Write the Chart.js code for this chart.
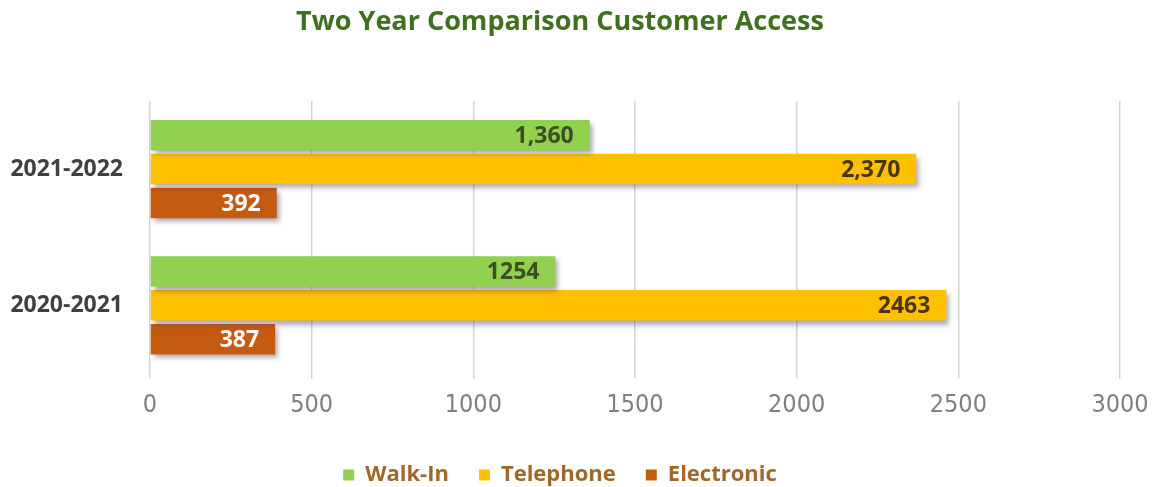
<!DOCTYPE html>
<html>
<head>
<meta charset="utf-8">
<title>Two Year Comparison Customer Access</title>
<script src="https://cdn.jsdelivr.net/npm/chart.js@4.4.1/dist/chart.umd.min.js"></script>
<style>
  html, body { margin: 0; padding: 0; background: #ffffff; }
  #wrap { width: 1154px; height: 487px; position: relative; }
</style>
</head>
<body>
<div id="wrap"><canvas id="chart"></canvas></div>
<script>
// Fiscal years, top to bottom
const years = ['2021-2022', '2020-2021'];
// Whether a year's value labels use thousands separators
const groupedDigits = [true, false];

// Customer contacts by channel
const walkIn     = [1360, 1254];
const telephone  = [2370, 2463];
const electronic = [392, 387];

const seriesNames = ['Walk-In', 'Telephone', 'Electronic'];
const seriesColors = ['#92d050', '#ffc000', '#c55a11'];
const labelColors = ['#3b4f22', '#4a3512', '#ffffff'];

// X axis range
const axisMin = 0;
const axisMax = 3000;
const axisStep = 500;

const fontMain = "'Open Sans', 'Noto Sans', sans-serif";
const fontTicks = "'Liberation Sans Narrow', 'DejaVu Sans Condensed', 'Open Sans', sans-serif";

// Soft drop shadow under the bars, then value labels near the bar ends
const barDecor = {
  id: 'barDecor',
  beforeDatasetsDraw(chart) {
    const ctx = chart.ctx;
    ctx.save();
    ctx.shadowColor = 'rgba(70, 55, 100, 0.45)';
    ctx.shadowBlur = 5;
    ctx.shadowOffsetX = 3;
    ctx.shadowOffsetY = 4;
  },
  afterDatasetsDraw(chart) {
    const ctx = chart.ctx;
    ctx.restore();
    ctx.save();
    ctx.font = 'bold 23px ' + fontMain;
    ctx.textAlign = 'right';
    ctx.textBaseline = 'middle';
    chart.data.datasets.forEach((ds, di) => {
      const meta = chart.getDatasetMeta(di);
      meta.data.forEach((bar, i) => {
        const v = ds.data[i];
        const txt = groupedDigits[i] ? v.toLocaleString('en-US') : String(v);
        ctx.fillStyle = labelColors[di];
        ctx.fillText(txt, bar.x - 16, bar.y + 1);
      });
    });
    ctx.restore();
  }
};

const values = [walkIn, telephone, electronic];

new Chart(document.getElementById('chart'), {
  type: 'bar',
  data: {
    labels: years,
    datasets: seriesNames.map((name, k) => ({
      label: name,
      data: values[k],
      backgroundColor: seriesColors[k],
      borderWidth: 0,
      barPercentage: 0.9,
      categoryPercentage: 0.746
    }))
  },
  options: {
    indexAxis: 'y',
    responsive: true,
    maintainAspectRatio: false,
    animation: false,
    layout: { padding: { top: 0, left: 0, right: 34, bottom: -9 } },
    scales: {
      x: {
        min: axisMin,
        max: axisMax,
        border: { display: false },
        grid: { color: '#d4d4d4', lineWidth: 1.5, drawTicks: true, tickLength: 5 },
        ticks: {
          stepSize: axisStep,
          padding: 12,
          color: '#808080',
          font: { family: fontTicks, size: 25 },
          callback: (v) => String(v)
        },
        afterFit(scale) {
          scale.height = 60.6;
          scale.paddingLeft = 0;
          scale.paddingRight = 0;
        }
      },
      y: {
        border: { display: false },
        grid: { display: false, drawTicks: false },
        ticks: {
          padding: 27,
          color: '#404040',
          font: { family: fontMain, size: 23, weight: 'bold' }
        },
        afterFit(scale) { scale.width = 150; }
      }
    },
    plugins: {
      title: {
        display: true,
        text: 'Two Year Comparison Customer Access',
        color: '#3f6f1f',
        font: { family: fontMain, size: 27, weight: 'bold' },
        padding: { top: 6, bottom: 62.6 }
      },
      legend: {
        position: 'bottom',
        labels: {
          boxWidth: 11,
          boxHeight: 11,
          padding: 30,
          color: '#a0662a',
          font: { family: fontMain, size: 22, weight: 'bold' }
        }
      },
      tooltip: { enabled: false }
    }
  },
  plugins: [barDecor]
});
</script>
</body>
</html>
